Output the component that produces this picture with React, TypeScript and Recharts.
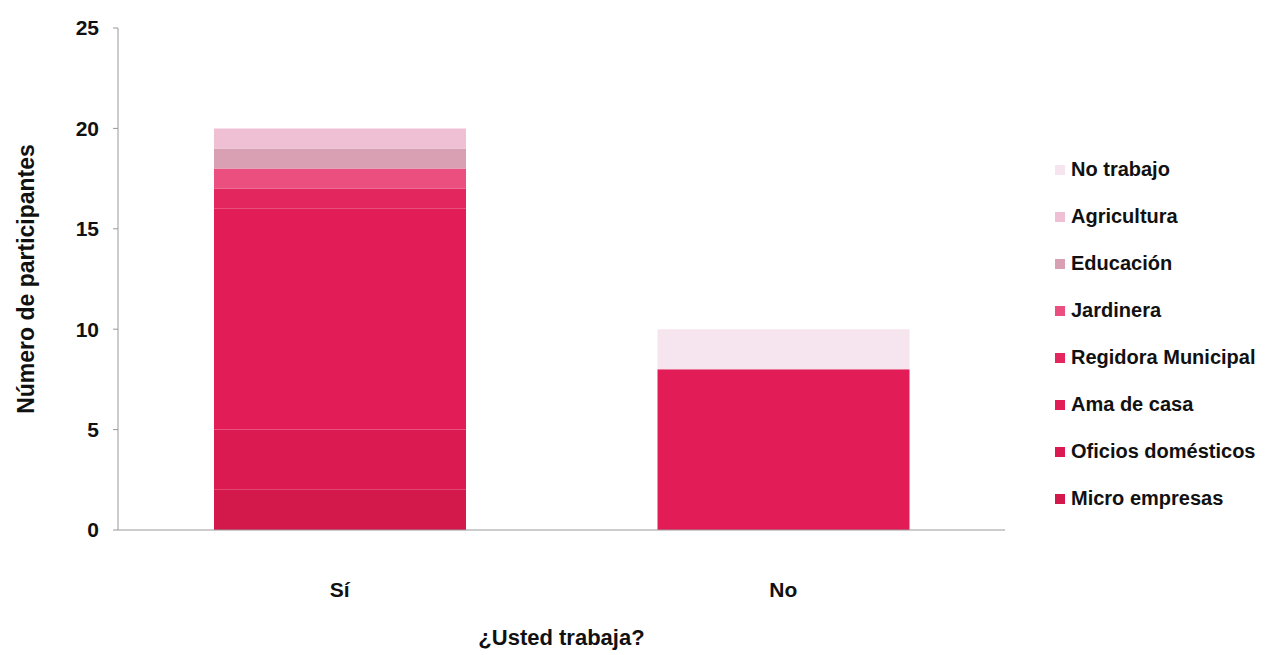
import { BarChart, Bar, XAxis, YAxis, Legend } from 'recharts';

const categories = ['Sí', 'No'];

// one value per category (Sí, No), bottom of the stack first
const microEmpresas = [2, 0];
const oficiosDomesticos = [3, 0];
const amaDeCasa = [11, 8];
const regidoraMunicipal = [1, 0];
const jardinera = [1, 0];
const educacion = [1, 0];
const agricultura = [1, 0];
const noTrabajo = [0, 2];

const yTicks = [0, 5, 10, 15, 20, 25];

const SERIES = [
    { key: 'Micro empresas', values: microEmpresas, color: '#d3184b' },
    { key: 'Oficios domésticos', values: oficiosDomesticos, color: '#dc1a52' },
    { key: 'Ama de casa', values: amaDeCasa, color: '#e21c57' },
    { key: 'Regidora Municipal', values: regidoraMunicipal, color: '#e4265f' },
    { key: 'Jardinera', values: jardinera, color: '#ea4f80' },
    { key: 'Educación', values: educacion, color: '#d9a0b4' },
    { key: 'Agricultura', values: agricultura, color: '#efc0d4' },
    { key: 'No trabajo', values: noTrabajo, color: '#f6e4ef' },
];

const data = categories.map((name, i) => {
    const row: Record<string, string | number> = { name };
    SERIES.forEach((s) => {
        row[s.key] = s.values[i];
    });
    return row;
});

const FONT = '"Liberation Sans", Arial, sans-serif';

function LegendList() {
    const items = [...SERIES].reverse();
    return (
        <div style={{ fontFamily: FONT }}>
            {items.map((s) => (
                <div
                    key={s.key}
                    style={{
                        display: 'flex',
                        alignItems: 'center',
                        height: 47,
                        fontSize: 20,
                        fontWeight: 'bold',
                        color: '#111',
                    }}
                >
                    <span
                        style={{
                            display: 'inline-block',
                            width: 10,
                            height: 10,
                            background: s.color,
                            marginRight: 6,
                        }}
                    />
                    {s.key}
                </div>
            ))}
        </div>
    );
}

// rotated y-axis title, centred on the axis box
function YTitle(props: any) {
    const vb = props.viewBox || { x: 0, y: 0, width: 0, height: 0 };
    const cx = vb.x + 26;
    const cy = vb.y + vb.height / 2;
    return (
        <text
            x={cx}
            y={cy}
            transform={`rotate(-90, ${cx}, ${cy})`}
            textAnchor="middle"
            dominantBaseline="central"
            fill="#111"
            fontSize={23}
            fontWeight="bold"
            fontFamily={FONT}
        >
            Número de participantes
        </text>
    );
}

export default function App() {
    return (
        <div style={{ width: 1285, height: 655, background: '#fff' }}>
            <style>{'body{margin:0}'}</style>
            <BarChart
                width={1285}
                height={655}
                data={data}
                margin={{ top: 28, right: 50, bottom: 0, left: 0 }}
                barSize={252}
            >
                <XAxis
                    dataKey="name"
                    stroke="#999"
                    tickLine={false}
                    tickMargin={46}
                    height={125}
                    tick={{ fill: '#111', fontSize: 21, fontWeight: 'bold', fontFamily: FONT }}
                    label={{
                        value: '¿Usted trabaja?',
                        position: 'insideBottom',
                        offset: 10,
                        fill: '#111',
                        fontSize: 22,
                        fontWeight: 'bold',
                        fontFamily: FONT,
                    }}
                />
                <YAxis
                    domain={[0, 25]}
                    ticks={yTicks}
                    width={118}
                    stroke="#999"
                    tickSize={5}
                    tickMargin={14}
                    tick={{ fill: '#111', fontSize: 21, fontWeight: 'bold', fontFamily: FONT }}
                    label={{ content: <YTitle /> }}
                />
                <Legend
                    layout="vertical"
                    align="right"
                    verticalAlign="top"
                    content={() => <LegendList />}
                    wrapperStyle={{ left: 1055, top: 146, width: 230 }}
                />
                {SERIES.map((s) => (
                    <Bar
                        key={s.key}
                        dataKey={s.key}
                        stackId="a"
                        fill={s.color}
                        isAnimationActive={false}
                    />
                ))}
            </BarChart>
        </div>
    );
}
